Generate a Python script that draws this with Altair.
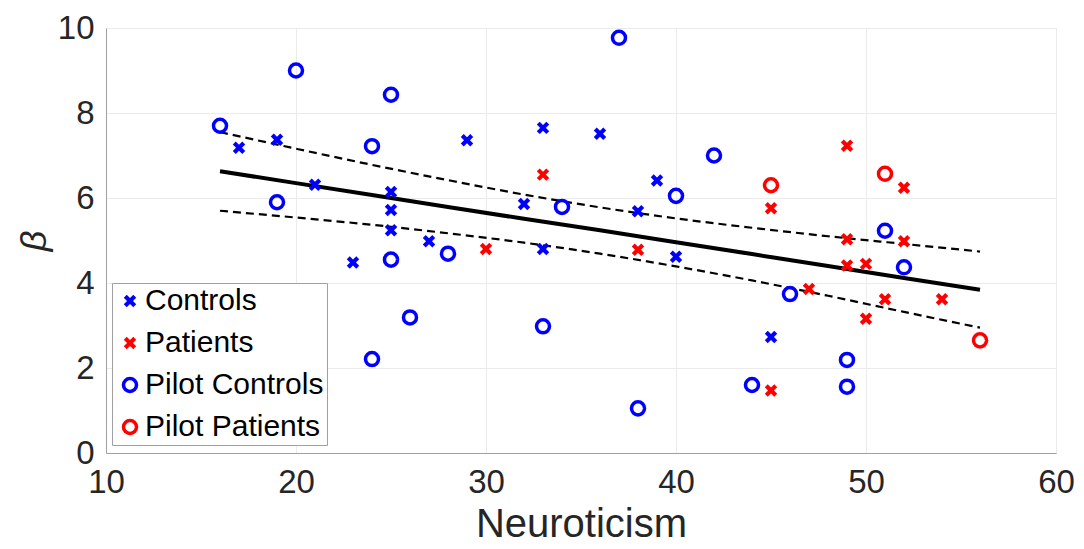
import altair as alt
import pandas as pd

# --- data ---
ctrl_x = [17, 19, 21, 23, 25, 25, 25, 27, 29, 32, 33, 33, 36, 38, 39, 40, 45]
ctrl_y = [7.18, 7.37, 6.31, 4.48, 6.14, 5.72, 5.24, 4.98, 7.36, 5.86, 7.65, 4.80, 7.51, 5.69, 6.41, 4.62, 2.73]

pat_x = [30, 33, 38, 45, 45, 47, 49, 49, 49, 50, 50, 51, 52, 52, 54]
pat_y = [4.80, 6.55, 4.78, 5.76, 1.47, 3.86, 7.23, 5.03, 4.41, 4.45, 3.16, 3.62, 6.24, 4.98, 3.62]

pilot_ctrl_x = [16, 19, 20, 24, 24, 25, 25, 26, 28, 33, 34, 37, 38, 40, 42, 44, 46, 49, 49, 51, 52]
pilot_ctrl_y = [7.70, 5.90, 9.00, 7.22, 2.21, 8.43, 4.55, 3.19, 4.69, 2.98, 5.79, 9.77, 1.05, 6.05, 7.00, 1.60, 3.74, 2.19, 1.56, 5.23, 4.37]

pilot_pat_x = [45, 51, 56]
pilot_pat_y = [6.30, 6.57, 2.65]

fit_x = [16, 20, 24, 28, 32, 36, 40, 44, 48, 52, 56]
fit_y = [6.63, 6.35, 6.07, 5.79, 5.51, 5.24, 4.96, 4.68, 4.40, 4.12, 3.84]
ci_upper = [7.55, 7.16, 6.78, 6.42, 6.08, 5.78, 5.52, 5.30, 5.10, 4.92, 4.74]
ci_lower = [5.70, 5.54, 5.37, 5.17, 4.95, 4.69, 4.39, 4.06, 3.70, 3.32, 2.95]

groups = ["Controls", "Patients", "Pilot Controls", "Pilot Patients"]
colors = ["#0000FF", "#FF0000", "#0000FF", "#FF0000"]
XPATH = "M-1,-1L1,1M1,-1L-1,1"
shapes = [XPATH, XPATH, "circle", "circle"]
sizes = [90, 90, 170, 170]
strokes = [4.2, 4.2, 3.5, 3.5]

rows = []
for g, xs, ys in [
    ("Controls", ctrl_x, ctrl_y),
    ("Patients", pat_x, pat_y),
    ("Pilot Controls", pilot_ctrl_x, pilot_ctrl_y),
    ("Pilot Patients", pilot_pat_x, pilot_pat_y),
]:
    for a, b in zip(xs, ys):
        rows.append({"x": a, "y": b, "group": g})
pts = pd.DataFrame(rows)

lines = []
for name, ys in [("fit", fit_y), ("upper", ci_upper), ("lower", ci_lower)]:
    for a, b in zip(fit_x, ys):
        lines.append({"x": a, "y": b, "line": name})
ldf = pd.DataFrame(lines)

xscale = alt.Scale(domain=[10, 60], nice=False)
yscale = alt.Scale(domain=[0, 10], nice=False)

FONT = "Liberation Sans"

xaxis = alt.Axis(
    title="Neuroticism", values=[10, 20, 30, 40, 50, 60], format="d",
    labelFontSize=33, titleFontSize=40, labelFont=FONT, titleFont=FONT,
    labelColor="#262626", titleColor="#262626", titleFontWeight="normal",
    grid=True, gridColor="#ebebeb", domainColor="#a0a0a0", tickSize=0,
    labelPadding=13, titlePadding=5, labelFlush=False,
)
yaxis = alt.Axis(
    title="β", values=[0, 2, 4, 6, 8, 10], format="d",
    labelFontSize=33, titleFontSize=36, labelFont=FONT, titleFont=FONT,
    labelColor="#262626", titleColor="#262626", titleFontWeight="normal",
    titleFontStyle="italic",
    grid=True, gridColor="#ebebeb", domainColor="#a0a0a0", tickSize=0,
    labelPadding=12, titlePadding=4, labelFlush=False,
)

legend = alt.Legend(
    title=None, orient="none", legendX=6, legendY=255,
    strokeColor="#a0a0a0", fillColor="white", padding=3,
    labelFontSize=30, labelFont=FONT, labelColor="black",
    rowPadding=12, labelOffset=0, cornerRadius=0,
    symbolOpacity=1, labelLimit=400,
)

fit = alt.Chart(ldf).transform_filter(alt.datum.line == "fit").mark_line(
    color="black", strokeWidth=4
).encode(x=alt.X("x:Q", scale=xscale, axis=xaxis), y=alt.Y("y:Q", scale=yscale, axis=yaxis))

ci = alt.Chart(ldf).transform_filter(alt.datum.line != "fit").mark_line(
    color="black", strokeWidth=2.2, strokeDash=[8, 5], interpolate="monotone"
).encode(x=alt.X("x:Q", scale=xscale), y=alt.Y("y:Q", scale=yscale), detail="line:N")

points = alt.Chart(pts).mark_point(filled=False, opacity=1).encode(
    x=alt.X("x:Q", scale=xscale),
    y=alt.Y("y:Q", scale=yscale),
    color=alt.Color("group:N", scale=alt.Scale(domain=groups, range=colors), legend=legend),
    shape=alt.Shape("group:N", scale=alt.Scale(domain=groups, range=shapes), legend=legend),
    size=alt.Size("group:N", scale=alt.Scale(type="ordinal", domain=groups, range=sizes), legend=legend),
    strokeWidth=alt.StrokeWidth("group:N", scale=alt.Scale(type="ordinal", domain=groups, range=strokes), legend=legend),
)

chart = alt.layer(fit, ci, points).properties(
    width=950, height=425,
    autosize=alt.AutoSizeParams(type="none"),
    padding={"left": 106, "top": 28, "right": 28, "bottom": 96},
).configure_view(
    stroke="#c8c8c8", strokeWidth=1
).configure(background="white")

chart.save("out.html", embed_options={"renderer": "svg", "actions": False})
